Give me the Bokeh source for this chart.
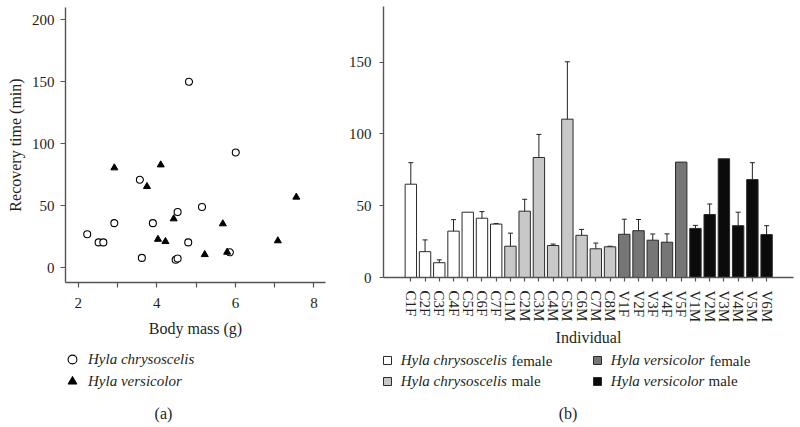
from bokeh.plotting import figure
from bokeh.models import (Range1d, FixedTicker, Legend, LegendItem, Label,
                          Whisker, ColumnDataSource, TeeHead)
from bokeh.layouts import row, column
from bokeh.embed import file_html
from bokeh.resources import INLINE

FONT = "Liberation Serif"
TXT = "#231f20"
AX = "#555555"

# ---------------- panel (a) data ----------------
chrys_mass = [4.82, 6.01, 3.57, 5.15, 4.53, 2.92, 3.90, 2.23, 2.52, 2.64, 4.80, 3.62, 4.48, 4.53, 5.86]
chrys_time = [150, 93, 71, 49, 45, 36, 36, 27, 20.5, 20.5, 20.5, 8, 6.5, 7.5, 12.5]
vers_mass = [2.92, 4.10, 3.75, 7.55, 4.43, 5.68, 4.03, 4.22, 7.08, 5.22, 5.79]
vers_time = [80.6, 83, 65.6, 57, 39.5, 35.5, 23, 21.2, 21.8, 10.7, 12.6]
mass_ticks = [2, 4, 6, 8]
mass_minor_ticks = [3, 5, 7]
time_ticks = [0, 50, 100, 150, 200]
species_names = ["Hyla chrysoscelis", "Hyla versicolor"]

# ---------------- panel (b) data ----------------
individuals = ["C1F", "C2F", "C3F", "C4F", "C5F", "C6F", "C7F",
               "C1M", "C2M", "C3M", "C4M", "C5M", "C6M", "C7M", "C8M",
               "V1F", "V2F", "V3F", "V4F", "V5F",
               "V1M", "V2M", "V3M", "V4M", "V5M", "V6M"]
mean_time = [65, 18, 10.3, 32.3, 45.5, 41.3, 37.2,
             21.8, 46.2, 83.6, 22.3, 110.3, 29.4, 20, 21.4,
             30.1, 32.6, 26, 24.6, 80.4,
             34.2, 43.9, 82.7, 36.1, 68.2, 29.9]
err_time = [15, 8.2, 2, 8, 0, 4.6, 0.4,
            9.1, 8.3, 16.1, 1.0, 40, 4.1, 4, 0.4,
            10.5, 7.8, 4.3, 5.8, 0,
            2.1, 7.3, 0, 9.4, 11.8, 6.2]
group_of = ["CF"] * 7 + ["CM"] * 8 + ["VF"] * 5 + ["VM"] * 6
groups = ["CF", "CM", "VF", "VM"]
group_colors = ["#ffffff", "#c8c8c8", "#767676", "#0b0b0b"]
group_species = ["Hyla chrysoscelis", "Hyla chrysoscelis", "Hyla versicolor", "Hyla versicolor"]
group_sex = ["female", "male", "female", "male"]
bar_ticks = [0, 50, 100, 150]


def style_axes(p):
    p.outline_line_color = None
    p.xgrid.grid_line_color = None
    p.ygrid.grid_line_color = None
    p.background_fill_color = "white"
    p.border_fill_color = "white"
    for ax in (p.xaxis[0], p.yaxis[0]):
        ax.axis_line_color = AX
        ax.axis_line_width = 1.4
        ax.major_tick_line_color = AX
        ax.major_tick_line_width = 1.2
        ax.minor_tick_line_color = AX
        ax.minor_tick_line_width = 1.2
        ax.major_tick_in = 0
        ax.minor_tick_in = 0
        ax.major_label_text_font = FONT
        ax.major_label_text_font_size = "15px"
        ax.major_label_text_color = TXT
        ax.axis_label_text_font = FONT
        ax.axis_label_text_font_size = "16px"
        ax.axis_label_text_font_style = "normal"
        ax.axis_label_text_color = TXT


def blank_fig(w, h):
    # strip holding the legend and caption; its ranges lie beyond every data
    # value, so the key renderers in it show only their legend glyphs
    f = figure(width=w, height=h, output_backend="svg", toolbar_location=None,
               x_axis_type=None, y_axis_type=None,
               x_range=Range1d(-30, -29), y_range=Range1d(300, 301),
               min_border_left=0, min_border_right=0, min_border_top=0, min_border_bottom=0)
    f.outline_line_color = None
    f.xgrid.grid_line_color = None
    f.ygrid.grid_line_color = None
    f.background_fill_color = "white"
    f.border_fill_color = "white"
    return f


def caption(text, sx, sy, size="16px", align="center"):
    return Label(x=sx, y=sy, x_units="screen", y_units="screen", text=text,
                 text_align=align, text_baseline="middle", text_font=FONT,
                 text_font_size=size, text_color=TXT)


# ---------------- panel (a) ----------------
p1 = figure(width=335, height=346, output_backend="svg", toolbar_location=None,
            x_range=Range1d(1.677, 8.293), y_range=Range1d(-11.85, 209.9),
            min_border_left=65, min_border_right=10, min_border_top=7, min_border_bottom=64)
style_axes(p1)
p1.xaxis.ticker = FixedTicker(ticks=mass_ticks, minor_ticks=mass_minor_ticks)
p1.yaxis.ticker = FixedTicker(ticks=time_ticks)
p1.xaxis.major_tick_out = 5
p1.xaxis.minor_tick_out = 5
p1.yaxis.major_tick_out = 5
p1.yaxis.minor_tick_out = 0
p1.xaxis.major_label_standoff = 10
p1.yaxis.major_label_standoff = 6
p1.xaxis.axis_label = "Body mass (g)"
p1.yaxis.axis_label = "Recovery time (min)"
p1.xaxis.axis_label_standoff = 9
p1.yaxis.axis_label_standoff = 5

circle_style = dict(marker="circle", fill_color="white", line_color="black", line_width=1.1)
tri_style = dict(marker="triangle", fill_color="black", line_color="black", line_width=1)
chrys_src = ColumnDataSource(dict(x=chrys_mass, y=chrys_time))
vers_src = ColumnDataSource(dict(x=vers_mass, y=vers_time))
p1.scatter(x="x", y="y", source=chrys_src, size=7, **circle_style)
p1.scatter(x="x", y="y", source=vers_src, size=7, **tri_style)

# legend + caption strip for panel (a) (its frame is aligned with p1's frame)
b1 = blank_fig(335, 81)
lr_c = b1.scatter(x="x", y="y", source=chrys_src, **circle_style)
lr_v = b1.scatter(x="x", y="y", source=vers_src, **tri_style)
leg1 = Legend(items=[LegendItem(label=species_names[0], renderers=[lr_c]),
                     LegendItem(label=species_names[1], renderers=[lr_v])],
              location=(-4, 35), orientation="vertical",
              glyph_width=22, glyph_height=22, label_height=22, label_standoff=5,
              spacing=0, padding=0, margin=0, border_line_color=None,
              background_fill_alpha=0, label_text_font=FONT,
              label_text_font_size="15px", label_text_font_style="italic",
              label_text_color=TXT)
b1.add_layout(leg1)
b1.add_layout(caption("(a)", 98, 14))

# ---------------- panel (b) ----------------
p2 = figure(width=465, height=349, output_backend="svg", toolbar_location=None,
            x_range=Range1d(-1.92, 26.89), y_range=Range1d(0, 188.8),
            min_border_left=48, min_border_right=7, min_border_top=6, min_border_bottom=69)
style_axes(p2)
p2.xaxis.ticker = FixedTicker(ticks=list(range(len(individuals))))
p2.xaxis.major_label_overrides = {i: name for i, name in enumerate(individuals)}
p2.xaxis.major_label_orientation = "vertical"
p2.yaxis.ticker = FixedTicker(ticks=bar_ticks)
p2.xaxis.major_tick_out = 4
p2.yaxis.major_tick_out = 4
p2.xaxis.minor_tick_out = 0
p2.yaxis.minor_tick_out = 0
p2.xaxis.major_label_standoff = 9
p2.yaxis.major_label_standoff = 8
p2.xaxis.axis_label = "Individual"
p2.xaxis.axis_label_standoff = 4

bar_style = dict(line_color="#2b2b2b", line_width=1)
group_sources = []
for g, col in zip(groups, group_colors):
    idx = [i for i, gg in enumerate(group_of) if gg == g]
    src = ColumnDataSource(dict(x=idx, top=[mean_time[i] for i in idx]))
    group_sources.append(src)
    p2.vbar(x="x", top="top", width=0.8, source=src, fill_color=col, **bar_style)

eidx = [i for i, e in enumerate(err_time) if e > 0]
esrc = ColumnDataSource(dict(x=eidx,
                             upper=[mean_time[i] + err_time[i] for i in eidx],
                             lower=[mean_time[i] - err_time[i] for i in eidx]))
p2.add_layout(Whisker(base="x", upper="upper", lower="lower", source=esrc,
                      line_color="#222222", line_width=1,
                      upper_head=TeeHead(size=5, line_color="#222222", line_width=1),
                      lower_head=TeeHead(size=5, line_color="#222222", line_width=1)))

# legend + caption strip for panel (b) (its frame is aligned with p2's frame)
b2 = blank_fig(465, 78)
leg_renderers = [b2.vbar(x="x", top="top", width=0.8, source=src, fill_color=col, **bar_style)
                 for src, col in zip(group_sources, group_colors)]
for vx, gis in [(-1.3, [0, 1]), (208.7, [2, 3])]:
    lg = Legend(items=[LegendItem(label=group_species[gi], renderers=[leg_renderers[gi]]) for gi in gis],
                location=(vx, 36), orientation="vertical",
                glyph_width=10, glyph_height=10, label_height=20, label_standoff=9,
                spacing=1, padding=0, margin=0, border_line_color=None,
                background_fill_alpha=0, label_text_font=FONT,
                label_text_font_size="15px", label_text_font_style="italic",
                label_text_color=TXT)
    b2.add_layout(lg)

sex_pos = [(128, 67), (128, 46.3), (326, 67), (325, 46.3)]
for gi, (sx, sy) in enumerate(sex_pos):
    b2.add_layout(caption(group_sex[gi], sx, sy, size="15px", align="left"))
b2.add_layout(caption("(b)", 184.5, 14))

layout = row(column(p1, b1), column(p2, b2))
open("out.html", "w").write(file_html(layout, INLINE))
